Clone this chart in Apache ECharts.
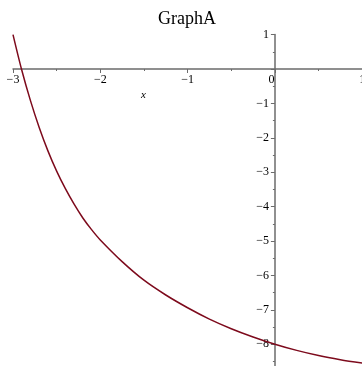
<!DOCTYPE html>
<html>
<head>
<meta charset="utf-8">
<script src="https://cdn.jsdelivr.net/npm/echarts@6/dist/echarts.min.js"></script>
<style>
  html, body { margin: 0; padding: 0; background: #fff; }
  #chart { width: 362px; height: 366px; }
</style>
</head>
<body>
<div id="chart"></div>
<script>
// Sampled points of the curve
const xValues = [-3, -2.9, -2.8, -2.7, -2.6, -2.5, -2.4, -2.3, -2.2, -2.1, -2.0, -1.75, -1.5, -1.25, -1.0, -0.75, -0.5, -0.25, 0, 0.25, 0.5, 0.75, 1];
const yValues = [1.0, -0.03, -0.92, -1.70, -2.38, -2.97, -3.48, -3.93, -4.33, -4.67, -4.97, -5.60, -6.14, -6.57, -6.94, -7.27, -7.55, -7.79, -8.0, -8.18, -8.33, -8.45, -8.55];

const xTicks = [-3, -2, -1, 0, 1];
const yTicks = [1, -1, -2, -3, -4, -5, -6, -7, -8];

const serif = 'Liberation Serif';
const axisColor = '#6b6b6b';
const curveColor = '#7d0a1c';

// plot frame: x from -3 to 1, y from -9 to 1
const gridLeft = 13, gridTop = 34.6, gridWidth = 349.2, gridHeight = 344;
const pxPerX = gridWidth / 4, pxPerY = gridHeight / 10;

const fmt = v => (v < 0 ? '\u2212' : '') + Math.abs(v);
const points = xValues.map((x, i) => [x, yValues[i]]);

const chart = echarts.init(document.getElementById('chart'), null, { renderer: 'canvas' });
chart.setOption({
  animation: false,
  backgroundColor: '#ffffff',
  title: {
    text: 'GraphA',
    left: 182,
    top: 5,
    textAlign: 'center',
    textStyle: { fontFamily: serif, fontSize: 18, fontWeight: 'normal', color: '#000' }
  },
  grid: {
    left: gridLeft, top: gridTop, width: gridWidth, height: gridHeight,
    containLabel: false, outerBoundsMode: 'none'
  },
  xAxis: {
    type: 'value',
    min: -3,
    max: 1,
    interval: 1,
    position: 'bottom',
    // move the axis up so it crosses y = 0
    offset: -(gridHeight - pxPerY),
    axisLine: { onZero: false, lineStyle: { color: axisColor, width: 1.5 } },
    axisTick: { show: true, length: 4, lineStyle: { color: axisColor } },
    minorTick: { show: true, splitNumber: 2, length: 2, lineStyle: { color: axisColor } },
    splitLine: { show: false },
    axisLabel: {
      margin: 5,
      fontFamily: serif,
      fontSize: 12,
      color: '#000',
      showMinLabel: true,
      showMaxLabel: true,
      hideOverlap: false,
      formatter: v => {
        if (!xTicks.includes(v)) return '';
        // the origin label sits just left of the vertical axis
        return v === 0 ? '{origin|0}' : fmt(v);
      },
      rich: {
        origin: { fontFamily: serif, fontSize: 12, color: '#000', padding: [0, 7, 0, 0] }
      }
    }
  },
  yAxis: {
    type: 'value',
    min: -9,
    max: 1,
    interval: 1,
    position: 'left',
    // move the axis right so it crosses x = 0
    offset: -(3 * pxPerX),
    axisLine: { onZero: false, lineStyle: { color: axisColor, width: 1.5 } },
    axisTick: { show: true, length: 4, lineStyle: { color: axisColor } },
    minorTick: { show: true, splitNumber: 2, length: 2, lineStyle: { color: axisColor } },
    splitLine: { show: false },
    axisLabel: {
      margin: 6,
      fontFamily: serif,
      fontSize: 12,
      color: '#000',
      formatter: v => yTicks.includes(v) ? fmt(v) : ''
    }
  },
  graphic: [{
    type: 'text',
    left: 141,
    top: 90,
    style: { text: 'x', fontFamily: serif, fontStyle: 'italic', fontSize: 11, fill: '#000' }
  }],
  series: [{
    type: 'line',
    data: points,
    smooth: 0.3,
    showSymbol: false,
    clip: true,
    lineStyle: { color: curveColor, width: 1.5 }
  }]
});
</script>
</body>
</html>
